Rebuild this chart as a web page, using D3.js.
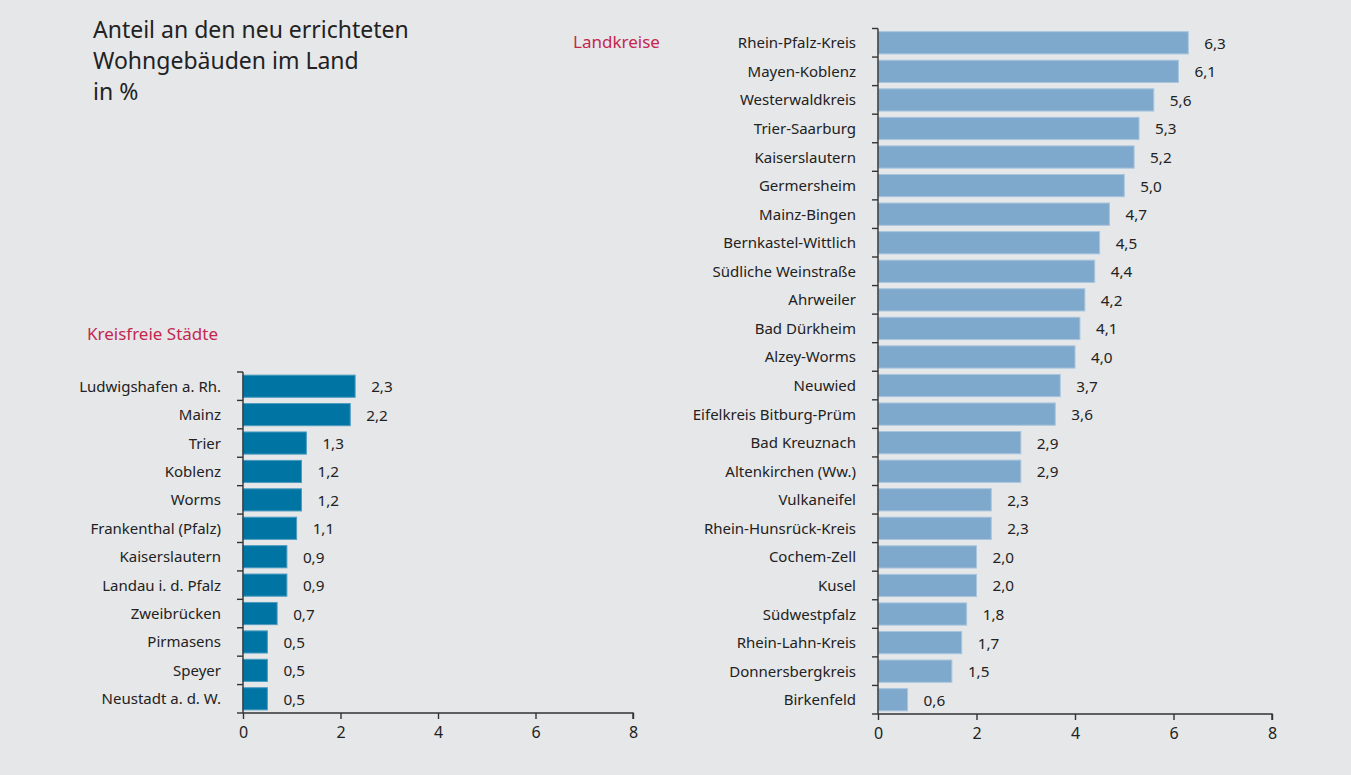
<!DOCTYPE html>
<html><head><meta charset="utf-8">
<script src="https://cdn.jsdelivr.net/npm/d3@7"></script>
<style>
html,body{margin:0;padding:0;background:#e6e7e9;}
svg{display:block;font-family:"Noto Sans",sans-serif;}
</style></head><body>
<svg id="c" width="1351" height="775"></svg>
<script>
const titleLines = ["Anteil an den neu errichteten", "Wohngebäuden im Land", "in %"];
const cityTitle = "Kreisfreie Städte";
const cities = ["Ludwigshafen a. Rh.","Mainz","Trier","Koblenz","Worms","Frankenthal (Pfalz)","Kaiserslautern","Landau i. d. Pfalz","Zweibrücken","Pirmasens","Speyer","Neustadt a. d. W."];
const cityValues = [2.3,2.2,1.3,1.2,1.2,1.1,0.9,0.9,0.7,0.5,0.5,0.5];
const districtTitle = "Landkreise";
const districts = ["Rhein-Pfalz-Kreis","Mayen-Koblenz","Westerwaldkreis","Trier-Saarburg","Kaiserslautern","Germersheim","Mainz-Bingen","Bernkastel-Wittlich","Südliche Weinstraße","Ahrweiler","Bad Dürkheim","Alzey-Worms","Neuwied","Eifelkreis Bitburg-Prüm","Bad Kreuznach","Altenkirchen (Ww.)","Vulkaneifel","Rhein-Hunsrück-Kreis","Cochem-Zell","Kusel","Südwestpfalz","Rhein-Lahn-Kreis","Donnersbergkreis","Birkenfeld"];
const districtValues = [6.3,6.1,5.6,5.3,5.2,5.0,4.7,4.5,4.4,4.2,4.1,4.0,3.7,3.6,2.9,2.9,2.3,2.3,2.0,2.0,1.8,1.7,1.5,0.6];
const xTicks = [0,2,4,6,8];

const svg = d3.select("#c");
const fmt = v => d3.format(".1f")(v).replace(".", ",");

svg.append("text").attr("x",93).attr("y",0).style("font-size","23px").attr("fill","#222")
  .selectAll("tspan").data(titleLines).join("tspan")
  .attr("x",93).attr("y",(d,i)=>38+i*31).text(d=>d);

function panel(cfg){
  const x = d3.scaleLinear().domain([0,8]).range([cfg.x0,cfg.x1]);
  const y = d3.scaleBand().domain(cfg.cats).range([cfg.y0,cfg.y1]).paddingInner(0.22).paddingOuter(0.11);
  const g = svg.append("g");
  g.append("text").attr("x",cfg.tx).attr("y",cfg.ty).style("font-size","17px").attr("fill","#c4264f").text(cfg.title);
  g.selectAll("rect.bar").data(cfg.vals).join("rect").attr("class","bar")
    .attr("x",x(0)).attr("y",(d,i)=>y(cfg.cats[i]))
    .attr("width",d=>x(d)-x(0)).attr("height",y.bandwidth())
    .attr("fill",cfg.color).attr("stroke",cfg.stroke).attr("stroke-width",1);
  g.selectAll("text.val").data(cfg.vals).join("text").attr("class","val")
    .attr("x",d=>x(d)+16).attr("y",(d,i)=>y(cfg.cats[i])+y.bandwidth()/2+6)
    .style("font-size","15.3px").attr("fill","#222").text(fmt);
  g.selectAll("text.cat").data(cfg.cats).join("text").attr("class","cat")
    .attr("x",x(0)-22).attr("y",d=>y(d)+y.bandwidth()/2+5.5).attr("text-anchor","end")
    .style("font-size","15px").attr("fill","#222").text(d=>d);
  const bounds = d3.range(cfg.cats.length+1).map(i=>cfg.y0+i*(cfg.y1-cfg.y0)/cfg.cats.length);
  g.append("line").attr("x1",x(0)).attr("x2",x(0)).attr("y1",cfg.y0).attr("y2",cfg.y1).attr("stroke","#333").attr("stroke-width",1.4);
  g.selectAll("line.yt").data(bounds).join("line").attr("class","yt")
    .attr("x1",x(0)-6).attr("x2",x(0)).attr("y1",d=>d).attr("y2",d=>d).attr("stroke","#333").attr("stroke-width",1.4);
  const ax = g.append("g").attr("transform",`translate(0,${cfg.y1})`)
    .call(d3.axisBottom(x).tickValues(xTicks).tickSize(6).tickPadding(8).tickFormat(d3.format("d")));
  ax.attr("font-size",16).attr("font-family","Noto Sans, sans-serif");
  ax.select(".domain").attr("stroke","#333").attr("stroke-width",1.4).attr("d",`M${x(0)},0H${x(8)}V6`);
  ax.selectAll(".tick line").attr("stroke","#333").attr("stroke-width",1.4);
  ax.selectAll(".tick text").attr("font-size",16).style("font-size","16px").attr("fill","#222");
}

panel({cats:cities, vals:cityValues, x0:243, x1:633, y0:372, y1:713, title:cityTitle, tx:87, ty:340, color:"#0075a3", stroke:"#4d9cc0"});
panel({cats:districts, vals:districtValues, x0:878, x1:1272, y0:28.5, y1:714, title:districtTitle, tx:573, ty:48, color:"#7fa9cc", stroke:"#a9c6de"});
</script>
</body></html>
